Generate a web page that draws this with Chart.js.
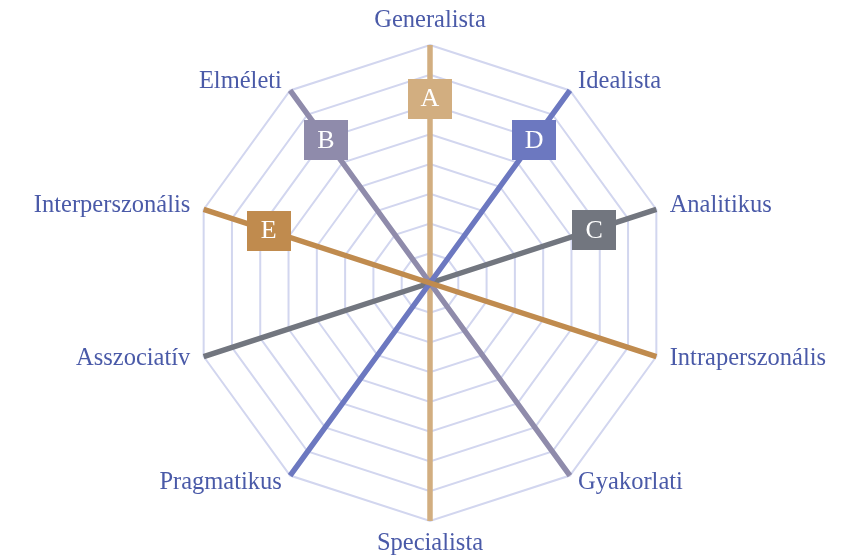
<!DOCTYPE html>
<html>
<head>
<meta charset="utf-8">
<script src="https://cdn.jsdelivr.net/npm/chart.js@4/dist/chart.umd.min.js"></script>
<style>
  html, body { margin: 0; padding: 0; background: #ffffff; }
  #wrap { width: 849px; height: 555px; position: relative; }
</style>
</head>
<body>
<div id="wrap"><canvas id="c"></canvas></div>
<script>
const categories = ['Generalista', 'Idealista', 'Analitikus', 'Intraperszonális', 'Gyakorlati',
                    'Specialista', 'Pragmatikus', 'Asszociatív', 'Interperszonális', 'Elméleti'];
const seriesNames = ['A', 'B', 'C', 'D', 'E'];
const seriesA = [8, 0, 0, 0, 0, 8, 0, 0, 0, 0];
const seriesB = [0, 0, 0, 0, 8, 0, 0, 0, 0, 8];
const seriesC = [0, 0, 8, 0, 0, 0, 0, 8, 0, 0];
const seriesD = [0, 8, 0, 0, 0, 0, 8, 0, 0, 0];
const seriesE = [0, 0, 0, 8, 0, 0, 0, 0, 8, 0];
const badgeAxis = [0, 9, 2, 1, 8];
const badgeValue = [6.2, 5.95, 5.8, 5.95, 5.7];

const colors = ['#d2ae80', '#8f8bab', '#72767f', '#6c78c0', '#c08b4e'];
const drawOrder = [4, 3, 2, 1, 0];
const labelColor = '#4a5aa8';
const labelFont = '24.5px "Liberation Serif", serif';

const allSeries = [seriesA, seriesB, seriesC, seriesD, seriesE];
const datasets = allSeries.map((vals, i) => ({
  label: seriesNames[i],
  data: vals,
  borderColor: colors[i],
  backgroundColor: 'rgba(0,0,0,0)',
  borderWidth: 5.5,
  fill: false,
  pointRadius: 0,
  pointHoverRadius: 0,
  order: drawOrder[i]
}));

// custom point labels, placed just outside each spoke's outer end
const axisLabelPlugin = {
  id: 'axisLabels',
  afterDraw(chart) {
    const ctx = chart.ctx;
    const scale = chart.scales.r;
    const cx = scale.xCenter, cy = scale.yCenter;
    ctx.save();
    ctx.font = labelFont;
    ctx.fillStyle = labelColor;
    ctx.textBaseline = 'alphabetic';
    chart.data.labels.forEach((lab, i) => {
      const v = scale.getPointPositionForValue(i, scale.max);
      const r = Math.hypot(v.x - cx, v.y - cy);
      const dx = (v.x - cx) / r, dy = (v.y - cy) / r;
      let x, y;
      if (Math.abs(dx) < 0.05) {
        ctx.textAlign = 'center';
        x = v.x;
        y = dy < 0 ? v.y - 18 : v.y + 29;
      } else {
        ctx.textAlign = dx > 0 ? 'left' : 'right';
        x = v.x + 14 * dx;
        y = v.y + 5.5 + 10 * dy;
      }
      ctx.fillText(lab, x, y);
    });
    ctx.restore();
  }
};

const badgePlugin = {
  id: 'badges',
  afterDatasetsDraw(chart) {
    const ctx = chart.ctx;
    const scale = chart.scales.r;
    chart.data.datasets.forEach((ds, i) => {
      const p = scale.getPointPositionForValue(badgeAxis[i], badgeValue[i]);
      const w = 44, h = 40;
      ctx.save();
      ctx.fillStyle = colors[i];
      ctx.fillRect(Math.round(p.x - w / 2), Math.round(p.y - h / 2), w, h);
      ctx.fillStyle = '#ffffff';
      ctx.font = '26px "Liberation Serif", serif';
      ctx.textAlign = 'center';
      ctx.textBaseline = 'middle';
      ctx.fillText(ds.label, p.x, p.y + 1);
      ctx.restore();
    });
  }
};

new Chart(document.getElementById('c'), {
  type: 'radar',
  data: { labels: categories, datasets },
  options: {
    responsive: true,
    maintainAspectRatio: false,
    animation: false,
    layout: { padding: { top: 45, left: 11, right: 0, bottom: 34 } },
    plugins: { legend: { display: false }, tooltip: { enabled: false } },
    elements: { line: { tension: 0, borderJoinStyle: 'bevel' } },
    scales: {
      r: {
        min: 0, max: 8,
        ticks: { display: false, stepSize: 1 },
        grid: { color: '#d2d6ef', lineWidth: 2 },
        angleLines: { color: '#d2d6ef', lineWidth: 2 },
        pointLabels: { display: false }
      }
    }
  },
  plugins: [badgePlugin, axisLabelPlugin]
});
</script>
</body>
</html>
